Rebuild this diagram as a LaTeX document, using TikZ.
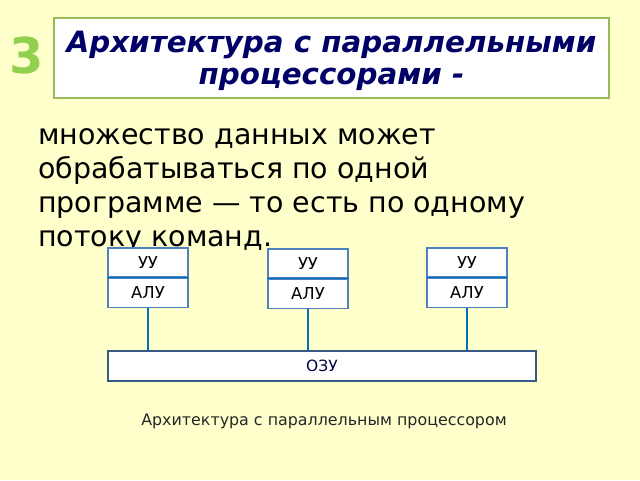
\documentclass[tikz,border=0pt]{standalone}
\usepackage{fontspec}
\setmainfont{DejaVu Sans}
\usetikzlibrary{positioning}
\definecolor{bgyellow}{HTML}{FFFFCC}
\definecolor{framegreen}{HTML}{9BBB59}
\definecolor{numgreen}{HTML}{92D050}
\definecolor{titlenavy}{HTML}{000066}
\definecolor{boxblue}{HTML}{4F81BD}
\definecolor{linkblue}{HTML}{0070C0}
\tikzset{
  unitbox/.style={draw=boxblue,line width=1.2pt,fill=white,minimum width=60pt,minimum height=21.75pt,inner sep=0pt,font=\fontsize{12.3}{14}\selectfont},
  link/.style={draw=linkblue,line width=1.2pt}
}
\begin{document}
\begin{tikzpicture}[x=0.75pt,y=-0.75pt]

      \fill[bgyellow] (0,0) rectangle (640,480);
      \useasboundingbox (0,0) rectangle (640,480);

      % title
      \node[draw=framegreen,line width=1.2pt,fill=white,minimum width=416pt,minimum height=60pt,inner sep=0pt] (titlebox) at (331.5,58) {};
      \node[align=center,inner sep=0pt,text=titlenavy,font=\fontsize{22}{24}\selectfont\bfseries\itshape]
        (title) at ([yshift=-2.25pt]titlebox.center) {Архитектура с параллельными\\процессорами -};
      \node[text=numgreen,font=\fontsize{37}{40}\selectfont\bfseries] (num) at (27,56) {3};

      \node[anchor=north west,align=left,inner sep=0pt,font=\fontsize{21.35}{25.5}\selectfont] (body) at (38,128)
        {множество данных может\\обрабатываться по одной\\программе — то есть по одному\\потоку команд.};

      % processors
      \node[unitbox,anchor=north] (uu1) at (148,247) {УУ};
      \node[unitbox,below=0pt of uu1] (alu1) {АЛУ};
      \node[unitbox,anchor=north] (uu2) at (308,248) {УУ};
      \node[unitbox,below=0pt of uu2] (alu2) {АЛУ};
      \node[unitbox,anchor=north] (uu3) at (467,247) {УУ};
      \node[unitbox,below=0pt of uu3] (alu3) {АЛУ};
      \draw[link] (uu1.south west) -- (uu1.south east);
      \draw[link] (uu2.south west) -- (uu2.south east);
      \draw[link] (uu3.south west) -- (uu3.south east);

      \node[draw=boxblue!70!black,line width=1.2pt,fill=white,minimum width=321pt,minimum height=22.5pt,inner sep=0pt,
        text=titlenavy!70!black,font=\fontsize{11.6}{13}\selectfont] (ozu) at (322,366) {ОЗУ};

      \draw[link] (alu1.south) -- (alu1.south |- ozu.north);
      \draw[link] (alu2.south) -- (alu2.south |- ozu.north);
      \draw[link] (alu3.south) -- (alu3.south |- ozu.north);

      \node[text=black!85,font=\fontsize{11.9}{14}\selectfont] (caption) at (324,421) {Архитектура с параллельным процессором};
    \end{tikzpicture}
\end{document}
